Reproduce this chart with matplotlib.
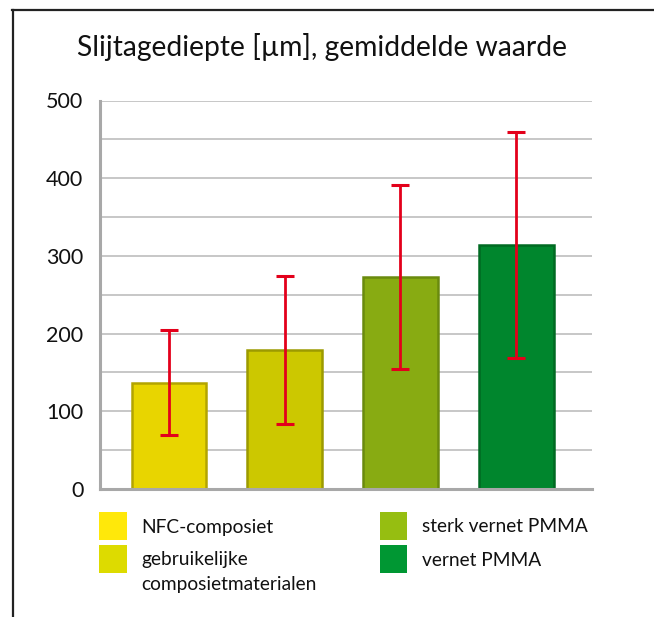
import matplotlib
matplotlib.use("Agg")
import matplotlib.pyplot as plt
from matplotlib.patches import Rectangle
from matplotlib.lines import Line2D
import numpy as np

plt.rcParams['font.family'] = ['Lato', 'DejaVu Sans']

title = "Slijtagediepte [µm], gemiddelde waarde"
categories = ["NFC-composiet", "gebruikelijke\ncomposietmaterialen",
              "sterk vernet PMMA", "vernet PMMA"]
values = [137, 179, 273, 314]
errors = [67, 95, 118, 146]
bar_colors = ["#E8D500", "#CCC800", "#88AB12", "#00862D"]
edge_colors = ["#B3A400", "#9C9A00", "#6A8A0E", "#006A22"]
legend_colors = ["#FFE80A", "#DDDB00", "#96BE11", "#009733"]
yticks = [0, 100, 200, 300, 400, 500]

W, H = 654, 617
fig = plt.figure(figsize=(W / 100, H / 100), dpi=100)
ax = fig.add_axes([100 / W, 1 - 489 / H, 492 / W, (489 - 100.5) / H])

x = np.arange(len(values))
ax.bar(x, values, width=0.645, color=bar_colors, edgecolor=edge_colors,
       linewidth=1.8, zorder=3)
ax.errorbar(x, values, yerr=errors, fmt='none', ecolor="#E3001B",
            elinewidth=2.0, capsize=6.5, capthick=2.2, zorder=4)

ax.set_xlim(-0.597, 3.655)
ax.set_ylim(0, 500)
ax.set_yticks(yticks)
ax.set_yticks(np.arange(50, 500, 100), minor=True)
ax.set_xticks([])
ax.grid(True, which='both', axis='y', color="#BDBDBD", linewidth=1.2, zorder=0)
ax.tick_params(axis='y', which='both', length=0, pad=12, labelsize=15.5,
               labelcolor="#111111")
for s in ['top', 'right']:
    ax.spines[s].set_visible(False)
for s in ['left', 'bottom']:
    ax.spines[s].set_color("#A8A8A8")
    ax.spines[s].set_linewidth(2.2)
    ax.spines[s].set_zorder(5)

fig.text(322 / W, 1 - 47 / H, title, ha='center', va='center',
         fontsize=20.3, color="#111111")

# frame
fig.add_artist(Line2D([12 / W, 1], [1 - 9.5 / H, 1 - 9.5 / H],
                      transform=fig.transFigure, color="#222222", lw=1.6))
fig.add_artist(Line2D([12.5 / W, 12.5 / W], [0, 1 - 9.5 / H],
                      transform=fig.transFigure, color="#222222", lw=1.6))

# legend
pos = [(99, 512), (99, 545), (380, 512), (380, 545)]
for (px, py), c, lab in zip(pos, legend_colors, categories):
    fig.add_artist(Rectangle((px / W, 1 - (py + 27.5) / H), 27.5 / W, 27.5 / H,
                             transform=fig.transFigure, facecolor=c,
                             edgecolor='none'))
    if '\n' in lab:
        fig.text((px + 42) / W, 1 - (py + 6) / H, lab, ha='left', va='top',
                 fontsize=13.8, color="#111111", linespacing=1.6)
    else:
        fig.text((px + 42) / W, 1 - (py + 15) / H, lab, ha='left',
                 va='center', fontsize=13.8, color="#111111")

fig.savefig("out.png", dpi=100)
